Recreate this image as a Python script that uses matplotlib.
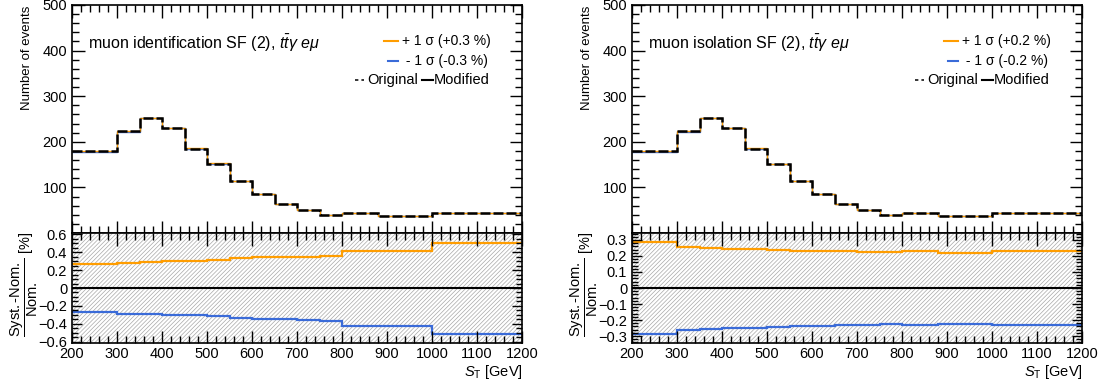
import numpy as np
import matplotlib
matplotlib.use("Agg")
import matplotlib.pyplot as plt
from matplotlib.ticker import MultipleLocator, FixedLocator, FuncFormatter
from matplotlib.lines import Line2D

plt.rcParams['font.family'] = ['Liberation Sans', 'DejaVu Sans']
plt.rcParams['mathtext.fontset'] = 'custom'
plt.rcParams['mathtext.rm'] = 'Liberation Sans'
plt.rcParams['mathtext.it'] = 'Liberation Sans:italic'
plt.rcParams['mathtext.bf'] = 'Liberation Sans:bold'
plt.rcParams['hatch.linewidth'] = 0.5
plt.rcParams['hatch.color'] = '#a8a8a8'

# ---- data ----
edges = [200, 300, 350, 400, 450, 500, 550, 600, 650, 700, 750, 800, 880, 1000, 1200]
nominal = [179, 223, 252, 230, 185, 152, 114, 86, 64, 51, 39, 43, 38, 43]

left_title = r"muon identification SF (2), $t\bar{t}\gamma$ $e\mu$"
left_up_label = r"+ 1 σ (+0.3 %)"
left_down_label = r" - 1 σ (-0.3 %)"
left_up = [0.27, 0.28, 0.29, 0.295, 0.30, 0.31, 0.33, 0.34, 0.345, 0.35, 0.36, 0.41, 0.41, 0.50]
left_down = [-0.27, -0.285, -0.29, -0.30, -0.30, -0.31, -0.33, -0.34, -0.35, -0.36, -0.37, -0.42, -0.42, -0.51]

right_title = r"muon isolation SF (2), $t\bar{t}\gamma$ $e\mu$"
right_up_label = r"+ 1 σ (+0.2 %)"
right_down_label = r" - 1 σ (-0.2 %)"
right_up = [0.286, 0.257, 0.25, 0.246, 0.242, 0.24, 0.234, 0.232, 0.228, 0.226, 0.222, 0.23, 0.22, 0.23]
right_down = [-0.286, -0.26, -0.257, -0.25, -0.248, -0.244, -0.238, -0.234, -0.23, -0.23, -0.224, -0.23, -0.224, -0.23]

xticks = [200, 300, 400, 500, 600, 700, 800, 900, 1000, 1100, 1200]

ORANGE = '#ff9d00'
BLUE = '#3a6bd8'

W, H = 1110, 383
fig = plt.figure(figsize=(W / 100, H / 100), dpi=100)


def px_axes(x0, y0, x1, y1):
    return fig.add_axes([x0 / W, 1 - y1 / H, (x1 - x0) / W, (y1 - y0) / H])


def fx(px):
    # pixel x measured on the left panel -> axes fraction
    return (px - 72) / 450.0


def fy(py):
    return 1 - (py - 5) / 228.0


def style_axis(ax, xmaj, xmin, ymaj, ymin):
    ax.xaxis.set_major_locator(MultipleLocator(xmaj))
    ax.xaxis.set_minor_locator(MultipleLocator(xmin))
    ax.yaxis.set_major_locator(MultipleLocator(ymaj))
    ax.yaxis.set_minor_locator(MultipleLocator(ymin))
    ax.tick_params(which='both', direction='in', top=True, right=True, labelsize=10.5, colors='black')
    ax.tick_params(which='major', length=9, width=1.0)
    ax.tick_params(which='minor', length=5, width=1.0)
    for s in ax.spines.values():
        s.set_linewidth(1.2)


def panel(x0, title, up_lab, down_lab, up, down, rmaj, rmin):
    x1 = x0 + 450
    nom = np.array(nominal, dtype=float)
    upv = nom * (1 + np.array(up) / 100.0)
    dnv = nom * (1 + np.array(down) / 100.0)

    ax = px_axes(x0, 5, x1, 233)
    ax.stairs(dnv, edges, color=BLUE, lw=1.0, baseline=None)
    ax.stairs(upv, edges, color=ORANGE, lw=1.0, baseline=None)
    ax.stairs(nom, edges, color='black', lw=1.8, ls=(0, (4, 1.2)), baseline=None)
    ax.set_xlim(200, 1200)
    ax.set_ylim(0, 500)
    style_axis(ax, 100, 20, 100, 20)
    ax.tick_params(labelbottom=False)
    ax.yaxis.set_major_locator(FixedLocator([100, 200, 300, 400, 500]))

    ax.text(fx(88), fy(43), title, transform=ax.transAxes, ha='left', va='center', fontsize=11.5)

    # legend (manual)
    ax.add_line(Line2D([fx(384), fx(398)], [fy(41), fy(41)], color=ORANGE, lw=1.5, transform=ax.transAxes))
    ax.text(fx(402), fy(41), up_lab, transform=ax.transAxes, ha='left', va='center', fontsize=10)
    ax.add_line(Line2D([fx(388), fx(398)], [fy(61), fy(61)], color=BLUE, lw=1.5, transform=ax.transAxes))
    ax.text(fx(402), fy(61), down_lab, transform=ax.transAxes, ha='left', va='center', fontsize=10)
    ax.add_line(Line2D([fx(355), fx(364)], [fy(80), fy(80)], color='black', lw=1.1, ls=(0, (2.2, 2)),
                       transform=ax.transAxes))
    ax.text(fx(367), fy(80), 'Original', transform=ax.transAxes, ha='left', va='center', fontsize=10.5)
    ax.add_line(Line2D([fx(422), fx(433)], [fy(80), fy(80)], color='black', lw=1.5, transform=ax.transAxes))
    ax.text(fx(434), fy(80), 'Modified', transform=ax.transAxes, ha='left', va='center', fontsize=10.5)

    fig.text((x0 - 45) / W, 1 - 6 / H, 'Number of events', rotation=90, ha='center', va='top', fontsize=9.5)

    # ratio panel
    rx = px_axes(x0, 233, x1, 343)
    lim = 1.2 * max(max(np.abs(up)), max(np.abs(down)))
    rx.fill_between([200, 1200], -lim * 1.5, lim * 1.5, facecolor='none', edgecolor='#a8a8a8',
                    hatch='////////', lw=0)
    rx.axhline(0, color='black', lw=1.5)
    rx.stairs(up, edges, color=ORANGE, lw=1.6, baseline=None)
    rx.stairs(down, edges, color=BLUE, lw=1.6, baseline=None)
    rx.set_xlim(200, 1200)
    rx.set_ylim(-lim, lim)
    style_axis(rx, 100, 20, rmaj, rmin)
    rx.xaxis.set_major_locator(FixedLocator(xticks))
    rx.tick_params(which='major', axis='y', length=7)
    rx.tick_params(which='minor', axis='y', length=4)
    rx.tick_params(axis='x', pad=3)
    rx.yaxis.set_major_formatter(FuncFormatter(
        lambda v, p: '0' if abs(v) < 1e-9 else ('%g' % round(v, 2)).replace('-', '\u2212')))
    fig.text((x0 - 48) / W, 1 - 232 / H,
             r'$\dfrac{\mathrm{Syst.\text{-}Nom.}}{\mathrm{Nom.}}$ [%]', rotation=90,
             ha='center', va='top', fontsize=10.5)
    fig.text((x1 + 1) / W, 1 - 372 / H, r'$S_{\mathrm{T}}$ [GeV]', ha='right', va='center', fontsize=10.5)


panel(72, left_title, left_up_label, left_down_label, left_up, left_down, 0.2, 0.05)
panel(632, right_title, right_up_label, right_down_label, right_up, right_down, 0.1, 0.02)

fig.savefig('out.png', dpi=100)
